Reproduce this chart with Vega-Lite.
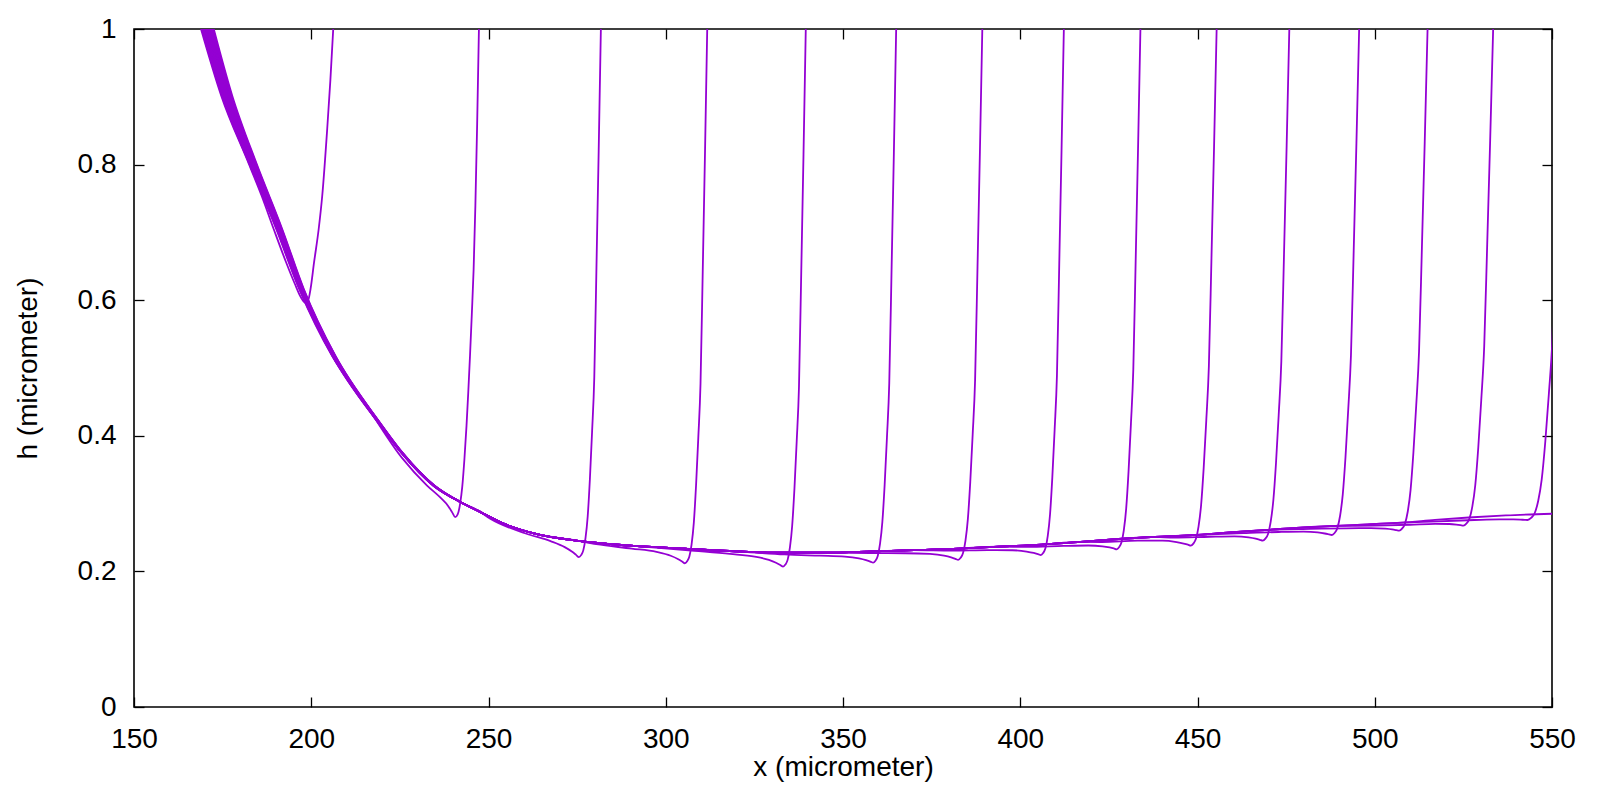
{
"$schema": "https://vega.github.io/schema/vega-lite/v6.json",
"width": 1418, "height": 678,
"autosize": {"type": "none"},
"padding": {"left": 134, "top": 29, "right": 48, "bottom": 93},
"background": "white",
"config": {"view": {"stroke": "black", "strokeWidth": 1.6}, "font": "Liberation Sans"},
"data": {"values": [
{"c":1,"x":168.9,"h":1},{"c":1,"x":174.6,"h":0.9017},{"c":1,"x":182.4,"h":0.801},{"c":1,"x":186.0,"h":0.754},{"c":1,"x":189.4,"h":0.705},{"c":1,"x":192.9,"h":0.656},{"c":1,"x":195.3,"h":0.625},{"c":1,"x":197.0,"h":0.605},{"c":1,"x":198.4,"h":0.596},{"c":1,"x":199.2,"h":0.601},{"c":1,"x":199.8,"h":0.6165},{"c":1,"x":200.8,"h":0.656},{"c":1,"x":202.1,"h":0.705},{"c":1,"x":203.1,"h":0.754},{"c":1,"x":204.5,"h":0.8525},{"c":1,"x":205.4,"h":0.925},{"c":1,"x":206.2,"h":1},
{"c":2,"x":169.14,"h":1},{"c":2,"x":174.81,"h":0.9017},{"c":2,"x":182.55,"h":0.801},{"c":2,"x":190.12,"h":0.705},{"c":2,"x":196.59,"h":0.6165},{"c":2,"x":205.87,"h":0.518},{"c":2,"x":212.5,"h":0.467},{"c":2,"x":215.6,"h":0.444},{"c":2,"x":225.6,"h":0.3675},{"c":2,"x":232.6,"h":0.327},{"c":2,"x":236.6,"h":0.308},{"c":2,"x":238.6,"h":0.2966},{"c":2,"x":239.8,"h":0.2867},{"c":2,"x":240.6,"h":0.28},{"c":2,"x":241.3,"h":0.284},{"c":2,"x":242.0,"h":0.3},{"c":2,"x":242.6,"h":0.325},{"c":2,"x":243.2,"h":0.365},{"c":2,"x":243.8,"h":0.415},{"c":2,"x":244.3,"h":0.465},{"c":2,"x":244.8,"h":0.52},{"c":2,"x":245.3,"h":0.58},{"c":2,"x":245.8,"h":0.645},{"c":2,"x":246.3,"h":0.74},{"c":2,"x":246.8,"h":0.86},{"c":2,"x":247.3,"h":1},
{"c":3,"x":169.38,"h":1},{"c":3,"x":175.01,"h":0.9017},{"c":3,"x":182.69,"h":0.801},{"c":3,"x":190.24,"h":0.705},{"c":3,"x":196.69,"h":0.6165},{"c":3,"x":205.93,"h":0.518},{"c":3,"x":218.78,"h":0.42},{"c":3,"x":225.55,"h":0.374},{"c":3,"x":234.45,"h":0.3264},{"c":3,"x":242.2,"h":0.302},{"c":3,"x":247.5,"h":0.2882},
{"c":3,"x":250.5,"h":0.2777},{"c":3,"x":260.5,"h":0.2559},{"c":3,"x":267.5,"h":0.2446},{"c":3,"x":271.5,"h":0.2358},{"c":3,"x":273.5,"h":0.2293},{"c":3,"x":274.7,"h":0.2244},{"c":3,"x":275.5,"h":0.221},
{"c":3,"x":276.12,"h":0.224},{"c":3,"x":276.74,"h":0.231},{"c":3,"x":277.36,"h":0.249},{"c":3,"x":277.98,"h":0.281},{"c":3,"x":278.6,"h":0.336},{"c":3,"x":279.22,"h":0.406},{"c":3,"x":279.84,"h":0.486},{"c":3,"x":280.46,"h":0.6505},{"c":3,"x":281.08,"h":0.8201},{"c":3,"x":281.7,"h":1},
{"c":4,"x":169.62,"h":1},{"c":4,"x":175.22,"h":0.9017},{"c":4,"x":182.84,"h":0.801},{"c":4,"x":190.36,"h":0.705},{"c":4,"x":196.78,"h":0.6165},{"c":4,"x":206.0,"h":0.518},{"c":4,"x":218.82,"h":0.42},{"c":4,"x":225.58,"h":0.374},{"c":4,"x":234.48,"h":0.3264},{"c":4,"x":242.2,"h":0.302},{"c":4,"x":247.5,"h":0.2882},{"c":4,"x":253.4,"h":0.2724},{"c":4,"x":262.8,"h":0.2561},{"c":4,"x":275.3,"h":0.245},
{"c":4,"x":280.4,"h":0.2401},{"c":4,"x":290.4,"h":0.2337},{"c":4,"x":297.4,"h":0.2288},{"c":4,"x":301.4,"h":0.2231},{"c":4,"x":303.4,"h":0.2184},{"c":4,"x":304.6,"h":0.2147},{"c":4,"x":305.4,"h":0.212},
{"c":4,"x":306.03,"h":0.215},{"c":4,"x":306.66,"h":0.222},{"c":4,"x":307.29,"h":0.24},{"c":4,"x":307.92,"h":0.272},{"c":4,"x":308.55,"h":0.327},{"c":4,"x":309.18,"h":0.397},{"c":4,"x":309.81,"h":0.477},{"c":4,"x":310.44,"h":0.6444},{"c":4,"x":311.07,"h":0.817},{"c":4,"x":311.7,"h":1},
{"c":5,"x":169.86,"h":1},{"c":5,"x":175.43,"h":0.9017},{"c":5,"x":182.99,"h":0.801},{"c":5,"x":190.48,"h":0.705},{"c":5,"x":196.87,"h":0.6165},{"c":5,"x":206.07,"h":0.518},{"c":5,"x":218.86,"h":0.42},{"c":5,"x":225.61,"h":0.374},{"c":5,"x":234.51,"h":0.3264},{"c":5,"x":242.2,"h":0.302},{"c":5,"x":247.5,"h":0.2882},{"c":5,"x":253.4,"h":0.2724},{"c":5,"x":262.8,"h":0.2561},{"c":5,"x":275.3,"h":0.245},{"c":5,"x":290,"h":0.238},
{"c":5,"x":308.1,"h":0.2303},{"c":5,"x":318.1,"h":0.2258},{"c":5,"x":325.1,"h":0.2218},{"c":5,"x":329.1,"h":0.2169},{"c":5,"x":331.1,"h":0.2127},{"c":5,"x":332.3,"h":0.2094},{"c":5,"x":333.1,"h":0.207},
{"c":5,"x":333.74,"h":0.21},{"c":5,"x":334.38,"h":0.217},{"c":5,"x":335.02,"h":0.235},{"c":5,"x":335.66,"h":0.267},{"c":5,"x":336.3,"h":0.322},{"c":5,"x":336.94,"h":0.392},{"c":5,"x":337.58,"h":0.472},{"c":5,"x":338.22,"h":0.641},{"c":5,"x":338.86,"h":0.8152},{"c":5,"x":339.5,"h":1},
{"c":6,"x":170.1,"h":1},{"c":6,"x":175.64,"h":0.9017},{"c":6,"x":183.14,"h":0.801},{"c":6,"x":190.6,"h":0.705},{"c":6,"x":196.97,"h":0.6165},{"c":6,"x":206.14,"h":0.518},{"c":6,"x":218.9,"h":0.42},{"c":6,"x":225.64,"h":0.374},{"c":6,"x":234.54,"h":0.3264},{"c":6,"x":242.2,"h":0.302},{"c":6,"x":247.5,"h":0.2882},{"c":6,"x":253.4,"h":0.2724},{"c":6,"x":262.8,"h":0.2561},{"c":6,"x":275.3,"h":0.245},{"c":6,"x":290,"h":0.238},{"c":6,"x":305.4,"h":0.2335},{"c":6,"x":320,"h":0.2295},
{"c":6,"x":333.5,"h":0.225},{"c":6,"x":343.5,"h":0.2232},{"c":6,"x":350.5,"h":0.2219},{"c":6,"x":354.5,"h":0.2192},{"c":6,"x":356.5,"h":0.2166},{"c":6,"x":357.7,"h":0.2145},{"c":6,"x":358.5,"h":0.2128},
{"c":6,"x":359.15,"h":0.2158},{"c":6,"x":359.8,"h":0.2228},{"c":6,"x":360.45,"h":0.2408},{"c":6,"x":361.1,"h":0.2728},{"c":6,"x":361.75,"h":0.3278},{"c":6,"x":362.4,"h":0.3978},{"c":6,"x":363.05,"h":0.4778},{"c":6,"x":363.7,"h":0.6449},{"c":6,"x":364.35,"h":0.8172},{"c":6,"x":365.0,"h":1},
{"c":7,"x":170.34,"h":1},{"c":7,"x":175.84,"h":0.9017},{"c":7,"x":183.28,"h":0.801},{"c":7,"x":190.72,"h":0.705},{"c":7,"x":197.06,"h":0.6165},{"c":7,"x":206.2,"h":0.518},{"c":7,"x":218.94,"h":0.42},{"c":7,"x":225.66,"h":0.374},{"c":7,"x":234.56,"h":0.3264},{"c":7,"x":242.2,"h":0.302},{"c":7,"x":247.5,"h":0.2882},{"c":7,"x":253.4,"h":0.2724},{"c":7,"x":262.8,"h":0.2561},{"c":7,"x":275.3,"h":0.245},{"c":7,"x":290,"h":0.238},{"c":7,"x":305.4,"h":0.2335},{"c":7,"x":320,"h":0.2295},{"c":7,"x":333,"h":0.2275},{"c":7,"x":345,"h":0.2275},
{"c":7,"x":357.5,"h":0.2269},{"c":7,"x":367.5,"h":0.2268},{"c":7,"x":374.5,"h":0.2258},{"c":7,"x":378.5,"h":0.2233},{"c":7,"x":380.5,"h":0.2207},{"c":7,"x":381.7,"h":0.2186},{"c":7,"x":382.5,"h":0.217},
{"c":7,"x":383.18,"h":0.22},{"c":7,"x":383.86,"h":0.227},{"c":7,"x":384.54,"h":0.245},{"c":7,"x":385.22,"h":0.277},{"c":7,"x":385.9,"h":0.332},{"c":7,"x":386.58,"h":0.402},{"c":7,"x":387.26,"h":0.482},{"c":7,"x":387.94,"h":0.6478},{"c":7,"x":388.62,"h":0.8187},{"c":7,"x":389.3,"h":1},
{"c":8,"x":170.58,"h":1},{"c":8,"x":176.05,"h":0.9017},{"c":8,"x":183.43,"h":0.801},{"c":8,"x":190.84,"h":0.705},{"c":8,"x":197.15,"h":0.6165},{"c":8,"x":206.27,"h":0.518},{"c":8,"x":218.98,"h":0.42},{"c":8,"x":225.69,"h":0.374},{"c":8,"x":234.59,"h":0.3264},{"c":8,"x":242.2,"h":0.302},{"c":8,"x":247.5,"h":0.2882},{"c":8,"x":253.4,"h":0.2724},{"c":8,"x":262.8,"h":0.2561},{"c":8,"x":275.3,"h":0.245},{"c":8,"x":290,"h":0.238},{"c":8,"x":305.4,"h":0.2335},{"c":8,"x":320,"h":0.2295},{"c":8,"x":333,"h":0.2275},{"c":8,"x":345,"h":0.2275},{"c":8,"x":358.5,"h":0.2295},{"c":8,"x":370,"h":0.2315},
{"c":8,"x":380.8,"h":0.2307},{"c":8,"x":390.8,"h":0.2315},{"c":8,"x":397.8,"h":0.2312},{"c":8,"x":401.8,"h":0.2293},{"c":8,"x":403.8,"h":0.2272},{"c":8,"x":405.0,"h":0.2255},{"c":8,"x":405.8,"h":0.224},
{"c":8,"x":406.45,"h":0.227},{"c":8,"x":407.1,"h":0.234},{"c":8,"x":407.75,"h":0.252},{"c":8,"x":408.4,"h":0.284},{"c":8,"x":409.05,"h":0.339},{"c":8,"x":409.7,"h":0.409},{"c":8,"x":410.35,"h":0.489},{"c":8,"x":411.0,"h":0.6525},{"c":8,"x":411.65,"h":0.8212},{"c":8,"x":412.3,"h":1},
{"c":9,"x":170.82,"h":1},{"c":9,"x":176.26,"h":0.9017},{"c":9,"x":183.58,"h":0.801},{"c":9,"x":190.96,"h":0.705},{"c":9,"x":197.24,"h":0.6165},{"c":9,"x":206.34,"h":0.518},{"c":9,"x":219.02,"h":0.42},{"c":9,"x":225.72,"h":0.374},{"c":9,"x":234.62,"h":0.3264},{"c":9,"x":242.2,"h":0.302},{"c":9,"x":247.5,"h":0.2882},{"c":9,"x":253.4,"h":0.2724},{"c":9,"x":262.8,"h":0.2561},{"c":9,"x":275.3,"h":0.245},{"c":9,"x":290,"h":0.238},{"c":9,"x":305.4,"h":0.2335},{"c":9,"x":320,"h":0.2295},{"c":9,"x":333,"h":0.2275},{"c":9,"x":345,"h":0.2275},{"c":9,"x":358.5,"h":0.2295},{"c":9,"x":370,"h":0.2315},{"c":9,"x":382.5,"h":0.2335},{"c":9,"x":394,"h":0.2365},
{"c":9,"x":402.2,"h":0.2361},{"c":9,"x":412.2,"h":0.2376},{"c":9,"x":419.2,"h":0.2382},{"c":9,"x":423.2,"h":0.237},{"c":9,"x":425.2,"h":0.2353},{"c":9,"x":426.4,"h":0.2338},{"c":9,"x":427.2,"h":0.2326},
{"c":9,"x":427.87,"h":0.2356},{"c":9,"x":428.54,"h":0.2426},{"c":9,"x":429.21,"h":0.2606},{"c":9,"x":429.88,"h":0.2926},{"c":9,"x":430.55,"h":0.3476},{"c":9,"x":431.22,"h":0.4176},{"c":9,"x":431.89,"h":0.4976},{"c":9,"x":432.56,"h":0.6584},{"c":9,"x":433.23,"h":0.8242},{"c":9,"x":433.9,"h":1},
{"c":10,"x":171.06,"h":1},{"c":10,"x":176.46,"h":0.9017},{"c":10,"x":183.72,"h":0.801},{"c":10,"x":191.08,"h":0.705},{"c":10,"x":197.34,"h":0.6165},{"c":10,"x":206.4,"h":0.518},{"c":10,"x":219.06,"h":0.42},{"c":10,"x":225.74,"h":0.374},{"c":10,"x":234.64,"h":0.3264},{"c":10,"x":242.2,"h":0.302},{"c":10,"x":247.5,"h":0.2882},{"c":10,"x":253.4,"h":0.2724},{"c":10,"x":262.8,"h":0.2561},{"c":10,"x":275.3,"h":0.245},{"c":10,"x":290,"h":0.238},{"c":10,"x":305.4,"h":0.2335},{"c":10,"x":320,"h":0.2295},{"c":10,"x":333,"h":0.2275},{"c":10,"x":345,"h":0.2275},{"c":10,"x":358.5,"h":0.2295},{"c":10,"x":370,"h":0.2315},{"c":10,"x":382.5,"h":0.2335},{"c":10,"x":394,"h":0.2365},{"c":10,"x":406,"h":0.2395},{"c":10,"x":417,"h":0.2435},
{"c":10,"x":423.1,"h":0.2434},{"c":10,"x":433.1,"h":0.2453},{"c":10,"x":440.1,"h":0.2453},{"c":10,"x":444.1,"h":0.2432},{"c":10,"x":446.1,"h":0.2411},{"c":10,"x":447.3,"h":0.2394},{"c":10,"x":448.1,"h":0.238},
{"c":10,"x":448.83,"h":0.241},{"c":10,"x":449.56,"h":0.248},{"c":10,"x":450.29,"h":0.266},{"c":10,"x":451.02,"h":0.298},{"c":10,"x":451.75,"h":0.353},{"c":10,"x":452.48,"h":0.423},{"c":10,"x":453.21,"h":0.503},{"c":10,"x":453.94,"h":0.662},{"c":10,"x":454.67,"h":0.826},{"c":10,"x":455.4,"h":1},
{"c":11,"x":171.3,"h":1},{"c":11,"x":176.67,"h":0.9017},{"c":11,"x":183.87,"h":0.801},{"c":11,"x":191.2,"h":0.705},{"c":11,"x":197.43,"h":0.6165},{"c":11,"x":206.47,"h":0.518},{"c":11,"x":219.1,"h":0.42},{"c":11,"x":225.77,"h":0.374},{"c":11,"x":234.67,"h":0.3264},{"c":11,"x":242.2,"h":0.302},{"c":11,"x":247.5,"h":0.2882},{"c":11,"x":253.4,"h":0.2724},{"c":11,"x":262.8,"h":0.2561},{"c":11,"x":275.3,"h":0.245},{"c":11,"x":290,"h":0.238},{"c":11,"x":305.4,"h":0.2335},{"c":11,"x":320,"h":0.2295},{"c":11,"x":333,"h":0.2275},{"c":11,"x":345,"h":0.2275},{"c":11,"x":358.5,"h":0.2295},{"c":11,"x":370,"h":0.2315},{"c":11,"x":382.5,"h":0.2335},{"c":11,"x":394,"h":0.2365},{"c":11,"x":406,"h":0.2395},{"c":11,"x":417,"h":0.2435},{"c":11,"x":427.8,"h":0.2478},{"c":11,"x":438,"h":0.251},
{"c":11,"x":443.4,"h":0.2498},{"c":11,"x":453.4,"h":0.2511},{"c":11,"x":460.4,"h":0.2517},{"c":11,"x":464.4,"h":0.2502},{"c":11,"x":466.4,"h":0.2483},{"c":11,"x":467.6,"h":0.2466},{"c":11,"x":468.4,"h":0.2453},
{"c":11,"x":469.15,"h":0.2483},{"c":11,"x":469.9,"h":0.2553},{"c":11,"x":470.65,"h":0.2733},{"c":11,"x":471.4,"h":0.3053},{"c":11,"x":472.15,"h":0.3603},{"c":11,"x":472.9,"h":0.4303},{"c":11,"x":473.65,"h":0.5103},{"c":11,"x":474.4,"h":0.667},{"c":11,"x":475.15,"h":0.8286},{"c":11,"x":475.9,"h":1},
{"c":12,"x":171.54,"h":1},{"c":12,"x":176.88,"h":0.9017},{"c":12,"x":184.02,"h":0.801},{"c":12,"x":191.32,"h":0.705},{"c":12,"x":197.52,"h":0.6165},{"c":12,"x":206.54,"h":0.518},{"c":12,"x":219.14,"h":0.42},{"c":12,"x":225.8,"h":0.374},{"c":12,"x":234.7,"h":0.3264},{"c":12,"x":242.2,"h":0.302},{"c":12,"x":247.5,"h":0.2882},{"c":12,"x":253.4,"h":0.2724},{"c":12,"x":262.8,"h":0.2561},{"c":12,"x":275.3,"h":0.245},{"c":12,"x":290,"h":0.238},{"c":12,"x":305.4,"h":0.2335},{"c":12,"x":320,"h":0.2295},{"c":12,"x":333,"h":0.2275},{"c":12,"x":345,"h":0.2275},{"c":12,"x":358.5,"h":0.2295},{"c":12,"x":370,"h":0.2315},{"c":12,"x":382.5,"h":0.2335},{"c":12,"x":394,"h":0.2365},{"c":12,"x":406,"h":0.2395},{"c":12,"x":417,"h":0.2435},{"c":12,"x":427.8,"h":0.2478},{"c":12,"x":438,"h":0.251},{"c":12,"x":448.7,"h":0.2535},
{"c":12,"x":462.9,"h":0.2564},{"c":12,"x":472.9,"h":0.2581},{"c":12,"x":479.9,"h":0.2587},{"c":12,"x":483.9,"h":0.2575},{"c":12,"x":485.9,"h":0.2559},{"c":12,"x":487.1,"h":0.2546},{"c":12,"x":487.9,"h":0.2537},
{"c":12,"x":488.67,"h":0.2567},{"c":12,"x":489.44,"h":0.2637},{"c":12,"x":490.21,"h":0.2817},{"c":12,"x":490.98,"h":0.3137},{"c":12,"x":491.75,"h":0.3687},{"c":12,"x":492.52,"h":0.4387},{"c":12,"x":493.29,"h":0.5187},{"c":12,"x":494.06,"h":0.6727},{"c":12,"x":494.83,"h":0.8315},{"c":12,"x":495.6,"h":1},
{"c":13,"x":171.78,"h":1},{"c":13,"x":177.08,"h":0.9017},{"c":13,"x":184.16,"h":0.801},{"c":13,"x":191.44,"h":0.705},{"c":13,"x":197.62,"h":0.6165},{"c":13,"x":206.6,"h":0.518},{"c":13,"x":219.18,"h":0.42},{"c":13,"x":225.82,"h":0.374},{"c":13,"x":234.72,"h":0.3264},{"c":13,"x":242.2,"h":0.302},{"c":13,"x":247.5,"h":0.2882},{"c":13,"x":253.4,"h":0.2724},{"c":13,"x":262.8,"h":0.2561},{"c":13,"x":275.3,"h":0.245},{"c":13,"x":290,"h":0.238},{"c":13,"x":305.4,"h":0.2335},{"c":13,"x":320,"h":0.2295},{"c":13,"x":333,"h":0.2275},{"c":13,"x":345,"h":0.2275},{"c":13,"x":358.5,"h":0.2295},{"c":13,"x":370,"h":0.2315},{"c":13,"x":382.5,"h":0.2335},{"c":13,"x":394,"h":0.2365},{"c":13,"x":406,"h":0.2395},{"c":13,"x":417,"h":0.2435},{"c":13,"x":427.8,"h":0.2478},{"c":13,"x":438,"h":0.251},{"c":13,"x":448.7,"h":0.2535},{"c":13,"x":459,"h":0.2575},{"c":13,"x":469,"h":0.261},
{"c":13,"x":481.9,"h":0.2627},{"c":13,"x":491.9,"h":0.2636},{"c":13,"x":498.9,"h":0.2639},{"c":13,"x":502.9,"h":0.263},{"c":13,"x":504.9,"h":0.2619},{"c":13,"x":506.1,"h":0.2608},{"c":13,"x":506.9,"h":0.26},
{"c":13,"x":507.7,"h":0.263},{"c":13,"x":508.5,"h":0.27},{"c":13,"x":509.3,"h":0.288},{"c":13,"x":510.1,"h":0.32},{"c":13,"x":510.9,"h":0.375},{"c":13,"x":511.7,"h":0.445},{"c":13,"x":512.5,"h":0.525},{"c":13,"x":513.3,"h":0.677},{"c":13,"x":514.1,"h":0.8338},{"c":13,"x":514.9,"h":1},
{"c":14,"x":172.02,"h":1},{"c":14,"x":177.29,"h":0.9017},{"c":14,"x":184.31,"h":0.801},{"c":14,"x":191.56,"h":0.705},{"c":14,"x":197.71,"h":0.6165},{"c":14,"x":206.67,"h":0.518},{"c":14,"x":219.22,"h":0.42},{"c":14,"x":225.85,"h":0.374},{"c":14,"x":234.75,"h":0.3264},{"c":14,"x":242.2,"h":0.302},{"c":14,"x":247.5,"h":0.2882},{"c":14,"x":253.4,"h":0.2724},{"c":14,"x":262.8,"h":0.2561},{"c":14,"x":275.3,"h":0.245},{"c":14,"x":290,"h":0.238},{"c":14,"x":305.4,"h":0.2335},{"c":14,"x":320,"h":0.2295},{"c":14,"x":333,"h":0.2275},{"c":14,"x":345,"h":0.2275},{"c":14,"x":358.5,"h":0.2295},{"c":14,"x":370,"h":0.2315},{"c":14,"x":382.5,"h":0.2335},{"c":14,"x":394,"h":0.2365},{"c":14,"x":406,"h":0.2395},{"c":14,"x":417,"h":0.2435},{"c":14,"x":427.8,"h":0.2478},{"c":14,"x":438,"h":0.251},{"c":14,"x":448.7,"h":0.2535},{"c":14,"x":459,"h":0.2575},{"c":14,"x":469,"h":0.261},{"c":14,"x":479,"h":0.2645},{"c":14,"x":488.9,"h":0.267},
{"c":14,"x":500,"h":0.2675},{"c":14,"x":510,"h":0.2688},{"c":14,"x":517,"h":0.2702},{"c":14,"x":521,"h":0.2699},{"c":14,"x":523,"h":0.269},{"c":14,"x":524.2,"h":0.2681},{"c":14,"x":525,"h":0.2674},
{"c":14,"x":525.84,"h":0.2704},{"c":14,"x":526.68,"h":0.2774},{"c":14,"x":527.52,"h":0.2954},{"c":14,"x":528.36,"h":0.3274},{"c":14,"x":529.2,"h":0.3824},{"c":14,"x":530.04,"h":0.4524},{"c":14,"x":530.88,"h":0.5324},{"c":14,"x":531.72,"h":0.682},{"c":14,"x":532.56,"h":0.8363},{"c":14,"x":533.4,"h":1},
{"c":15,"x":172.26,"h":1},{"c":15,"x":177.5,"h":0.9017},{"c":15,"x":184.46,"h":0.801},{"c":15,"x":191.68,"h":0.705},{"c":15,"x":197.8,"h":0.6165},{"c":15,"x":206.74,"h":0.518},{"c":15,"x":219.26,"h":0.42},{"c":15,"x":225.88,"h":0.374},{"c":15,"x":234.78,"h":0.3264},{"c":15,"x":242.2,"h":0.302},{"c":15,"x":247.5,"h":0.2882},{"c":15,"x":253.4,"h":0.2724},{"c":15,"x":262.8,"h":0.2561},{"c":15,"x":275.3,"h":0.245},{"c":15,"x":290,"h":0.238},{"c":15,"x":305.4,"h":0.2335},{"c":15,"x":320,"h":0.2295},{"c":15,"x":333,"h":0.2275},{"c":15,"x":345,"h":0.2275},{"c":15,"x":358.5,"h":0.2295},{"c":15,"x":370,"h":0.2315},{"c":15,"x":382.5,"h":0.2335},{"c":15,"x":394,"h":0.2365},{"c":15,"x":406,"h":0.2395},{"c":15,"x":417,"h":0.2435},{"c":15,"x":427.8,"h":0.2478},{"c":15,"x":438,"h":0.251},{"c":15,"x":448.7,"h":0.2535},{"c":15,"x":459,"h":0.2575},{"c":15,"x":469,"h":0.261},{"c":15,"x":479,"h":0.2645},{"c":15,"x":488.9,"h":0.267},{"c":15,"x":498,"h":0.2695},{"c":15,"x":507.7,"h":0.272},
{"c":15,"x":518.1,"h":0.2739},{"c":15,"x":528.1,"h":0.2758},{"c":15,"x":535.1,"h":0.2767},{"c":15,"x":539.1,"h":0.2767},{"c":15,"x":541.1,"h":0.2764},{"c":15,"x":542.3,"h":0.276},{"c":15,"x":543.1,"h":0.2758},
{"c":15,"x":544.1,"h":0.2788},{"c":15,"x":545.1,"h":0.2858},{"c":15,"x":546.1,"h":0.3038},{"c":15,"x":547.1,"h":0.3358},{"c":15,"x":548.1,"h":0.3908},{"c":15,"x":549.1,"h":0.4608},{"c":15,"x":550.1,"h":0.5408},{"c":15,"x":551.1,"h":0.6877},{"c":15,"x":552.1,"h":0.8393},{"c":15,"x":553.1,"h":1},
{"c":16,"x":172.5,"h":1},{"c":16,"x":177.71,"h":0.9017},{"c":16,"x":184.6,"h":0.801},{"c":16,"x":191.8,"h":0.705},{"c":16,"x":197.9,"h":0.6165},{"c":16,"x":206.8,"h":0.518},{"c":16,"x":219.3,"h":0.42},{"c":16,"x":225.9,"h":0.374},{"c":16,"x":234.8,"h":0.3264},{"c":16,"x":242.2,"h":0.302},{"c":16,"x":247.5,"h":0.2882},{"c":16,"x":253.4,"h":0.2724},{"c":16,"x":262.8,"h":0.2561},{"c":16,"x":275.3,"h":0.245},{"c":16,"x":290,"h":0.238},{"c":16,"x":305.4,"h":0.2335},{"c":16,"x":320,"h":0.2295},{"c":16,"x":333,"h":0.2275},{"c":16,"x":345,"h":0.2275},{"c":16,"x":358.5,"h":0.2295},{"c":16,"x":370,"h":0.2315},{"c":16,"x":382.5,"h":0.2335},{"c":16,"x":394,"h":0.2365},{"c":16,"x":406,"h":0.2395},{"c":16,"x":417,"h":0.2435},{"c":16,"x":427.8,"h":0.2478},{"c":16,"x":438,"h":0.251},{"c":16,"x":448.7,"h":0.2535},{"c":16,"x":459,"h":0.2575},{"c":16,"x":469,"h":0.261},{"c":16,"x":479,"h":0.2645},{"c":16,"x":488.9,"h":0.267},{"c":16,"x":498,"h":0.2695},{"c":16,"x":507.7,"h":0.272},{"c":16,"x":517,"h":0.276},{"c":16,"x":526.5,"h":0.2795},{"c":16,"x":537,"h":0.2825},{"c":16,"x":550,"h":0.285}
]},
"layer": [
{"mark": {"type": "line", "interpolate": "monotone", "clip": true, "color": "#9400D3", "strokeWidth": 1.8},
 "encoding": {
  "x": {"field": "x", "type": "quantitative", "scale": {"domain": [150, 550], "nice": false, "zero": false},
        "axis": {"orient": "bottom", "title": "x (micrometer)", "values": [150,200,250,300,350,400,450,500,550], "format": "d",
                 "labelFlush": false, "labelOverlap": false, "tickSize": -10, "tickWidth": 1.3, "tickColor": "black", "domain": false, "grid": false,
                 "labelFontSize": 28, "labelColor": "black", "labelPadding": 28, "labelFont": "Liberation Sans",
                 "titleFontSize": 28, "titleFontWeight": "normal", "titleColor": "black", "titleFont": "Liberation Sans", "titlePadding": 0}},
  "y": {"field": "h", "type": "quantitative", "scale": {"domain": [0, 1], "nice": false, "zero": false},
        "axis": {"orient": "left", "title": "h (micrometer)", "values": [0,0.2,0.4,0.6,0.8,1], "format": "~g",
                 "labelOverlap": false, "tickSize": -10, "tickWidth": 1.3, "tickColor": "black", "domain": false, "grid": false,
                 "labelFontSize": 28, "labelColor": "black", "labelPadding": 28, "labelFont": "Liberation Sans",
                 "titleFontSize": 28, "titleFontWeight": "normal", "titleColor": "black", "titleFont": "Liberation Sans", "titlePadding": 35}},
  "detail": {"field": "c", "type": "nominal"}
 }},
{"mark": {"type": "line", "strokeOpacity": 0, "clip": true},
 "encoding": {
  "x": {"field": "x", "type": "quantitative",
        "axis": {"orient": "top", "title": null, "labels": false, "values": [150,200,250,300,350,400,450,500,550], "tickSize": -10, "tickWidth": 1.3, "tickColor": "black", "domain": false, "grid": false}},
  "y": {"field": "h", "type": "quantitative",
        "axis": {"orient": "right", "title": null, "labels": false, "values": [0,0.2,0.4,0.6,0.8,1], "tickSize": -10, "tickWidth": 1.3, "tickColor": "black", "domain": false, "grid": false}},
  "detail": {"field": "c", "type": "nominal"}
 }}
],
"resolve": {"axis": {"x": "independent", "y": "independent"}}
}
